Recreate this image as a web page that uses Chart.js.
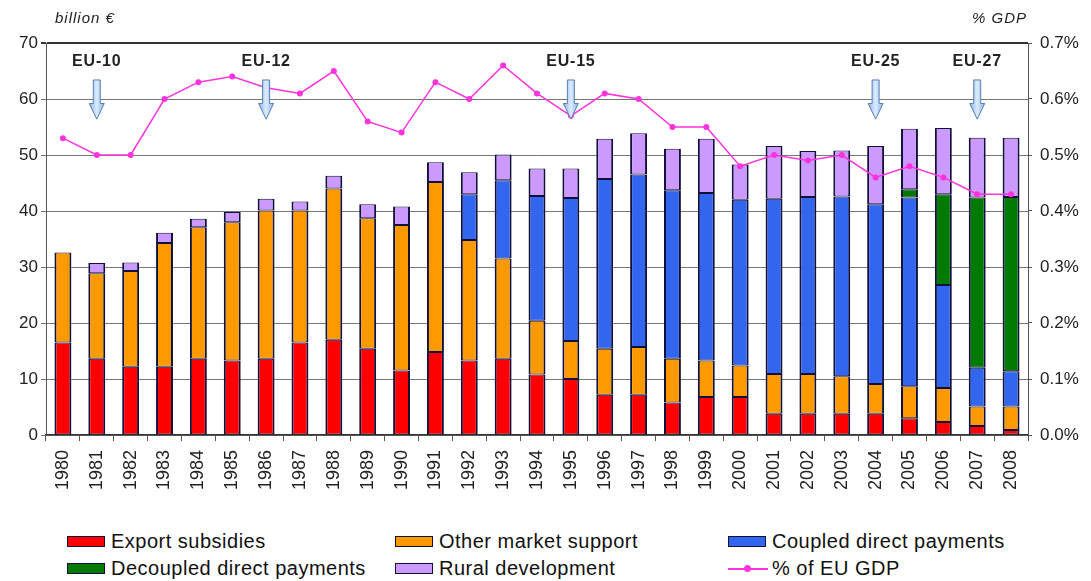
<!DOCTYPE html>
<html>
<head>
<meta charset="utf-8">
<script src="https://cdn.jsdelivr.net/npm/chart.js@4.4.1/dist/chart.umd.min.js"></script>
<style>
    body { margin: 0; background: #fff; font-family: "Liberation Sans", Arial, sans-serif; }
    #wrap { position: relative; width: 1091px; height: 581px; }
    #legend { position: absolute; left: 67px; top: 530px; display: grid;
        grid-template-columns: 328px 333px 300px; row-gap: 4px; font-size: 20px; letter-spacing: 0.5px; color: #111; }
    .item { display: flex; align-items: center; height: 23px; }
    .box { width: 36px; height: 9px; border: 1px solid #10103a; margin-right: 6px; }
    .ln { width: 40px; height: 12px; margin-right: 4px; position: relative; }
    .ln::before { content: ""; position: absolute; left: 0; right: 0; top: 5px; height: 2px; background: #ff33dd; }
    .ln::after { content: ""; position: absolute; left: 16px; top: 2px; width: 7px; height: 7px; border-radius: 50%; background: #ff33dd; }
</style>
</head>
<body>
<div id="wrap">
    <canvas id="graph" width="1091" height="525"></canvas>
    <div id="legend"></div>
</div>
<script>
// DADOS
const anos = ["1980","1981","1982","1983","1984","1985","1986","1987","1988","1989","1990","1991","1992","1993","1994",
    "1995","1996","1997","1998","1999","2000","2001","2002","2003","2004","2005","2006","2007","2008"];

const exportSubsidies = [16.5,13.6,12.2,12.2,13.6,13.3,13.6,16.5,17.0,15.4,11.5,14.8,13.3,13.6,10.8,
    10.0,7.2,7.2,5.8,6.8,6.8,3.8,3.8,3.8,3.8,3.0,2.3,1.6,0.9];
const otherMarket = [16.1,15.3,17.1,22.1,23.5,24.7,26.5,23.6,27.0,23.3,26.0,30.4,21.5,17.9,9.6,
    6.8,8.2,8.5,7.8,6.5,5.6,7.1,7.1,6.7,5.3,5.7,6.1,3.5,4.2];
const coupled = [0,0,0,0,0,0,0,0,0,0,0,0,8.2,14.0,22.3,
    25.5,30.3,30.8,30.1,29.9,29.6,31.3,31.6,32.1,32.1,33.7,18.4,6.9,6.3];
const decoupled = [0,0,0,0,0,0,0,0,0,0,0,0,0,0,0,
    0,0,0,0,0,0,0,0,0,0,1.5,16.2,30.4,31.1];
const rural = [0,1.8,1.5,1.8,1.5,1.8,2.1,1.6,2.3,2.5,3.3,3.5,3.9,4.6,4.9,
    5.3,7.2,7.4,7.4,9.7,6.3,9.4,8.2,8.2,10.4,10.8,11.8,10.7,10.6];
const pctGDP = [0.53,0.50,0.50,0.60,0.63,0.64,0.62,0.61,0.65,0.56,0.54,0.63,0.60,0.66,0.61,
    0.57,0.61,0.60,0.55,0.55,0.48,0.50,0.49,0.50,0.46,0.48,0.46,0.43,0.43];

const ticksEuro = [0,10,20,30,40,50,60,70];
const ticksPct = [0,0.1,0.2,0.3,0.4,0.5,0.6,0.7];

// ALARGAMENTOS (ano, texto)
const alargAnos = ["1981","1986","1995","2004","2007"];
const alargTextos = ["EU-10","EU-12","EU-15","EU-25","EU-27"];

const FONTE = "Liberation Sans";
const BORDA = "#10103a";

// PLUGIN: textos e setas
const extras = {
    id: "extras",
    afterDatasetsDraw(chart) {
        const c = chart.ctx;
        const x = chart.scales.x;
        const y = chart.scales.y;
        c.save();
        c.fillStyle = "#222";
        c.font = "italic 15px " + FONTE;
        c.letterSpacing = "1px";
        c.textBaseline = "middle";
        c.textAlign = "left";
        c.fillText("billion €", 55, 19);
        c.textAlign = "right";
        c.fillText("% GDP", 1027, 19);

        alargAnos.forEach((ano, i) => {
            const px = x.getPixelForValue(anos.indexOf(ano));
            const yTxt = y.getPixelForValue(66.6);
            const yTop = y.getPixelForValue(63.4);
            const yHead = y.getPixelForValue(59.2);
            const yBot = y.getPixelForValue(56.4);
            c.fillStyle = "#222";
            c.font = "bold 16px " + FONTE;
            c.letterSpacing = "0.8px";
            c.textAlign = "center";
            c.fillText(alargTextos[i], px, yTxt);
            c.beginPath();
            c.moveTo(px - 3.5, yTop);
            c.lineTo(px + 3.5, yTop);
            c.lineTo(px + 3.5, yHead);
            c.lineTo(px + 7.5, yHead);
            c.lineTo(px, yBot);
            c.lineTo(px - 7.5, yHead);
            c.lineTo(px - 3.5, yHead);
            c.closePath();
            const g = c.createLinearGradient(px - 7, 0, px + 7, 0);
            g.addColorStop(0, "#8fb8e8");
            g.addColorStop(0.5, "#dcecff");
            g.addColorStop(1, "#8fb8e8");
            c.fillStyle = g;
            c.fill();
            c.strokeStyle = "#5a7fb0";
            c.lineWidth = 1;
            c.stroke();
        });
        c.restore();
    },
};

function barra(label, data, cor) {
    return {
        type: "bar",
        label: label,
        data: data,
        backgroundColor: cor,
        borderColor: BORDA,
        // sem borda nos segmentos vazios
        borderWidth: (c) => (c.raw ? { top: 1, bottom: 1, left: 2, right: 2 } : 0),
        borderSkipped: false,
        barPercentage: 0.5,
        categoryPercentage: 1,
        stack: "cap",
        yAxisID: "y",
        order: 2,
    };
}

// CONSTRUIR GRÁFICO
const ctx = document.getElementById("graph");
Chart.defaults.color = "#222";
Chart.defaults.font.family = FONTE;
const grafico = new Chart(ctx, {
    data: {
        labels: anos,
        datasets: [
            barra("Export subsidies", exportSubsidies, "#ff0000"),
            barra("Other market support", otherMarket, "#ff9900"),
            barra("Coupled direct payments", coupled, "#3366ee"),
            barra("Decoupled direct payments", decoupled, "#007a00"),
            barra("Rural development", rural, "#cc99ff"),
            {
                type: "line",
                label: "% of EU GDP",
                data: pctGDP,
                yAxisID: "y1",
                borderColor: "#ff33dd",
                backgroundColor: "#ff33dd",
                borderWidth: 1.5,
                pointRadius: 3,
                pointBorderWidth: 0,
                tension: 0,
                order: 0,
            },
        ],
    },
    options: {
        responsive: false,
        animation: false,
        layout: { padding: { left: 0, right: 0, top: 43, bottom: 0 } },
        plugins: {
            legend: { display: false },
            tooltip: { enabled: false },
        },
        scales: {
            x: {
                stacked: true,
                offset: true,
                grid: {
                    display: true,
                    offset: true,
                    drawOnChartArea: false,
                    tickLength: 6,
                    color: "#555",
                },
                border: { color: "#333", width: 1.5 },
                ticks: {
                    minRotation: 90,
                    maxRotation: 90,
                    autoSkip: false,
                    padding: 9,
                    font: { size: 18 },
                },
                afterFit(s) { s.height = 90; },
            },
            y: {
                stacked: true,
                min: 0,
                max: 70,
                afterBuildTicks(s) { s.ticks = ticksEuro.map(v => ({ value: v })); },
                grid: {
                    color: (c) => (c.tick && c.tick.value === 70 ? "#333" : "#777"),
                    lineWidth: (c) => (c.tick && c.tick.value === 70 ? 2 : 1),
                    tickLength: 5,
                },
                border: { color: "#555", width: 1 },
                ticks: { padding: 3, font: { size: 17 } },
                afterFit(s) { s.width = 46; },
            },
            y1: {
                position: "right",
                min: 0,
                max: 0.7,
                afterBuildTicks(s) { s.ticks = ticksPct.map(v => ({ value: v })); },
                grid: { drawOnChartArea: false, tickLength: 4, color: "#555" },
                border: { color: "#555", width: 1 },
                ticks: {
                    padding: 8,
                    font: { size: 17 },
                    callback: (v) => v.toFixed(1) + "%",
                },
                afterFit(s) { s.width = 63; },
            },
        },
    },
    plugins: [extras],
});

// LEGENDA
const legenda = document.getElementById("legend");
grafico.data.datasets.forEach((ds) => {
    const item = document.createElement("div");
    item.className = "item";
    const marca = document.createElement("span");
    if (ds.type === "line") {
        marca.className = "ln";
    } else {
        marca.className = "box";
        marca.style.background = ds.backgroundColor;
    }
    item.appendChild(marca);
    item.appendChild(document.createTextNode(ds.label));
    legenda.appendChild(item);
});
</script>
</body>
</html>
